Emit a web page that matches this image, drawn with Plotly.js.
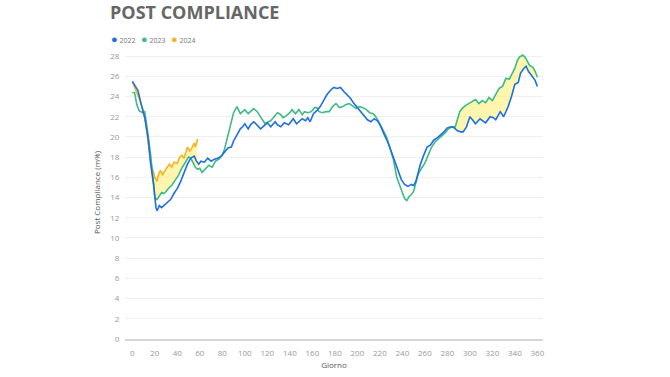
<!DOCTYPE html>
<html>
<head>
<meta charset="utf-8">
<script src="https://cdn.plot.ly/plotly-3.0.1.min.js"></script>
<style>html,body{margin:0;padding:0;background:#fff;}#chart{width:670px;height:377px;}</style>
</head>
<body>
<div id="chart"></div>
<script>
// ---- data ----
const seriesNames = ["2022", "2023", "2024"];
const seriesColors = ["#1f6fe0", "#3dbb86", "#f6b324"];

const days2022 = [0,3,5,8,11,14,16,19,21,22,
 24,26,28,30,32,34,37,40,43,46,
 49,52,55,57,59,61,64,67,70,73,
 76,79,82,85,88,90,93,96,98,100,
 103,105,108,111,114,117,120,123,127,129,
 132,135,137,139,141,143,146,149,151,154,
 156,158,161,164,167,170,173,176,179,182,
 185,188,191,194,197,200,203,206,209,212,
 215,218,221,224,227,230,233,236,239,242,
 245,248,250,252,254,256,259,262,265,268,
 271,274,277,280,283,286,289,292,294,297,
 300,303,305,309,312,314,318,321,323,327,
 330,334,337,340,343,345,348,350,352,355,
 358,360];
const vals2022 = [25.5,24.9,24.6,23.2,21.9,19.9,17.6,15.2,13.0,12.7,
 13.2,13.0,13.2,13.4,13.6,13.8,14.4,14.9,15.6,16.4,
 17.3,17.9,18.1,17.6,17.3,17.6,17.5,17.9,17.6,17.8,
 17.9,18.1,18.5,18.9,19.0,19.6,20.2,20.8,21.0,21.3,
 20.8,21.2,21.5,21.1,20.8,21.1,21.4,21.0,21.5,21.2,
 21.0,21.4,21.3,21.2,21.5,21.8,21.3,21.6,21.8,21.6,
 21.9,21.5,22.3,22.6,23.0,23.6,24.2,24.6,24.9,24.8,
 24.9,24.5,24.2,23.8,23.3,22.9,22.5,22.2,21.7,21.5,
 21.8,21.6,21.0,20.2,19.5,18.6,17.6,16.6,15.8,15.3,
 15.1,15.3,15.2,15.6,16.4,17.3,18.2,19.0,19.2,19.7,
 19.9,20.2,20.5,20.9,21.0,20.9,20.6,20.5,20.5,21.0,
 22.0,21.6,21.3,21.8,21.6,21.4,22.0,21.9,21.7,22.5,
 22.0,23.0,24.0,25.2,25.4,26.3,26.8,27.0,26.5,26.1,
 25.6,25.0];

const days2023 = [0,2,4,6,9,11,13,16,19,20,
 22,24,26,28,30,32,35,38,41,44,
 47,50,52,54,56,58,60,62,65,68,
 71,74,77,80,82,84,86,88,90,93,
 96,98,100,103,106,108,111,114,116,118,
 121,123,126,129,132,134,137,140,142,145,
 148,151,153,156,159,162,164,166,169,172,
 175,178,181,184,187,190,193,196,199,202,
 205,208,211,214,217,220,223,226,229,232,
 235,238,240,242,244,246,248,250,252,254,
 257,260,263,266,269,272,275,278,281,284,
 287,289,291,293,296,299,302,305,308,311,
 314,317,320,323,326,329,332,335,338,340,
 342,344,347,349,351,353,356,358,360];
const vals2023 = [24.4,24.4,23.2,22.6,22.4,22.5,21.0,18.5,15.3,14.0,
 13.8,14.1,14.5,14.4,14.6,14.9,15.2,15.7,16.2,16.9,
 17.5,18.0,17.9,17.4,17.0,16.8,16.9,16.5,16.9,17.2,
 17.0,17.6,17.8,18.2,18.8,19.7,20.8,21.8,22.4,23.0,
 22.3,22.5,22.7,22.3,22.6,22.8,22.5,22.0,21.6,21.3,
 21.5,21.6,22.0,22.4,22.2,21.9,22.1,22.4,22.7,22.3,
 22.7,22.2,22.5,22.4,22.5,22.9,22.9,22.5,22.4,22.5,
 22.5,23.0,23.3,22.9,23.0,23.2,23.3,23.0,22.8,23.0,
 22.9,22.7,22.4,22.3,21.9,21.3,20.7,20.0,18.9,17.8,
 16.0,15.2,14.5,13.9,13.7,14.1,14.3,14.6,15.4,16.3,
 16.9,17.4,18.2,19.0,19.5,19.8,20.1,20.4,20.8,21.0,
 21.0,21.8,22.5,22.8,23.1,23.3,23.5,23.7,23.3,23.6,
 23.4,23.9,23.6,24.2,24.8,25.0,25.8,25.7,26.4,26.8,
 27.5,27.9,28.1,27.9,27.5,27.1,26.9,26.5,25.9];

const days2024 = [0,2,5,8,11,14,17,20,22,23,25,27,28,31,33,35,37,40,42,44,46,49,51,52,55,56,58];
const vals2024 = [25.5,25.0,24.1,23.2,22.2,19.5,17.2,16.0,15.6,16.2,16.7,16.2,16.5,17.0,17.3,17.0,17.5,17.4,18.0,18.2,17.9,19.0,18.6,18.7,19.4,19.0,19.8];

// highlighted (yellow) gaps between series
const fillColor = "rgba(253,238,110,0.55)";
const gapEarly = [14, 58];   // 2024 above 2023
const gapLate = [287, 358];  // 2023 above 2022

const xTicks = [0,20,40,60,80,100,120,140,160,180,200,220,240,260,280,300,320,340,360];
const yTicks = [0,2,4,6,8,10,12,14,16,18,20,22,24,26,28];

function slice(days, vals, a, b) {
  const x = [], y = [];
  days.forEach((d, i) => { if (d >= a && d <= b) { x.push(d); y.push(vals[i]); } });
  return {x, y};
}

const g1 = slice(days2023, vals2023, gapEarly[0], gapEarly[1]);
const o1 = slice(days2024, vals2024, gapEarly[0], gapEarly[1]);
const b2 = slice(days2022, vals2022, gapLate[0], gapLate[1]);
const g2 = slice(days2023, vals2023, gapLate[0], gapLate[1]);

const base = {type: "scatter", mode: "lines", showlegend: false, hoverinfo: "skip"};
const traces = [
  Object.assign({}, base, {x: g1.x, y: g1.y, line: {width: 0}}),
  Object.assign({}, base, {x: o1.x, y: o1.y, line: {width: 0}, fill: "tonexty", fillcolor: fillColor}),
  Object.assign({}, base, {x: b2.x, y: b2.y, line: {width: 0}}),
  Object.assign({}, base, {x: g2.x, y: g2.y, line: {width: 0}, fill: "tonexty", fillcolor: fillColor}),
  {type: "scatter", mode: "lines", name: seriesNames[2], x: days2024, y: vals2024, line: {color: seriesColors[2], width: 1.6}, showlegend: false},
  {type: "scatter", mode: "lines", name: seriesNames[1], x: days2023, y: vals2023, line: {color: seriesColors[1], width: 1.6}, showlegend: false},
  {type: "scatter", mode: "lines", name: seriesNames[0], x: days2022, y: vals2022, line: {color: seriesColors[0], width: 1.6}, showlegend: false}
];

const L = 125, R = 543, T = 46, B = 339;
function px(x) { return (x - L) / (R - L); }
function py(y) { return (B - y) / (B - T); }

const legendX = [109, 139, 169];
const annotations = seriesNames.map((n, i) => ({
  xref: "paper", yref: "paper", x: px(legendX[i]), y: py(38), xanchor: "left", yanchor: "middle",
  showarrow: false,
  text: '<span style="color:' + seriesColors[i] + ';font-size:11px">●</span> ' + n,
  font: {family: "Open Sans, sans-serif", size: 7, color: "#777"}
}));

const layout = {
  width: 670, height: 377,
  margin: {l: L, r: 670 - R, t: T, b: 377 - B},
  paper_bgcolor: "#fff", plot_bgcolor: "#fff",
  showlegend: false,
  title: {text: "<b>POST COMPLIANCE</b>", x: 110 / 670, xanchor: "left", xref: "container",
          y: 1 - 13 / 377, yanchor: "middle", yref: "container",
          font: {family: "Open Sans, sans-serif", size: 18, color: "#666"}},
  xaxis: {
    range: [-6.5, 365], tickvals: xTicks, ticktext: xTicks.map(String),
    showgrid: false, zeroline: false, showline: true, linecolor: "#d6d6d6", linewidth: 2,
    ticks: "outside", ticklen: 5, tickcolor: "rgba(0,0,0,0)",
    tickfont: {family: "Open Sans, sans-serif", size: 8, color: "#999"},
    title: {text: "Giorno", standoff: 6, font: {family: "Open Sans, sans-serif", size: 8, color: "#555"}},
    fixedrange: true
  },
  yaxis: {
    range: [0, 29], tickvals: yTicks, ticktext: yTicks.map(String),
    showgrid: true, gridcolor: "#f0f0f0", gridwidth: 1, zeroline: false, showline: false,
    ticks: "outside", ticklen: 3, tickcolor: "rgba(0,0,0,0)",
    tickfont: {family: "Open Sans, sans-serif", size: 8, color: "#999"},
    title: {text: "Post Compliance (m%)", standoff: 8, font: {family: "Open Sans, sans-serif", size: 8, color: "#555"}},
    fixedrange: true
  },
  annotations: annotations
};

Plotly.newPlot("chart", traces, layout, {displayModeBar: false, staticPlot: true});
</script>
</body>
</html>
